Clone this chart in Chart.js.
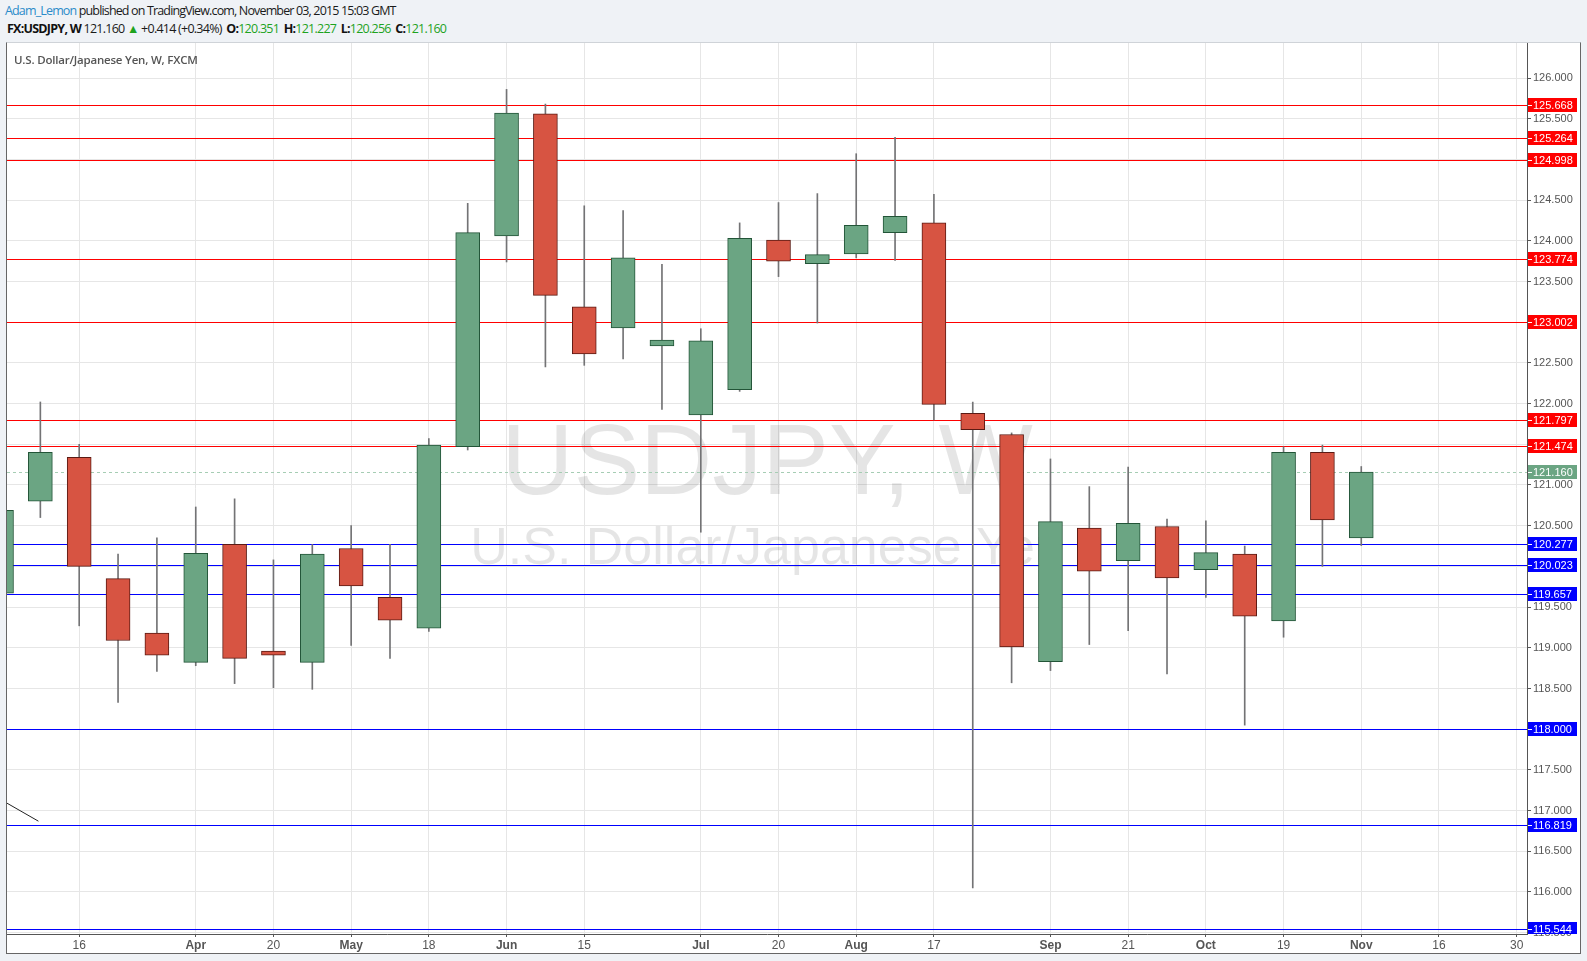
<!DOCTYPE html>
<html>
<head>
<meta charset="utf-8">
<script src="https://cdn.jsdelivr.net/npm/chart.js@4.4.0/dist/chart.umd.min.js"></script>
<style>
  body { margin: 0; background: #eff2f6; }
  #wrap { position: relative; width: 1587px; height: 961px; overflow: hidden; }
  .hdr { position: absolute; left: 5px; font-family: "Open Sans", "Noto Sans", sans-serif; font-size: 12.5px;
         line-height: 16px; color: #1a1a1a; white-space: nowrap; letter-spacing: -0.85px; }
  .hdr b { color: #111; margin-left: 2px; }
  .g { color: #1ea31e; }
  #frame { position: absolute; left: 6px; top: 42px; width: 1573px; height: 910px; background: #fff;
           border: 1px solid #666; border-top-color: #cfd3d8; }
  #chart { position: absolute; left: 0; top: 0; }
  #title { position: absolute; left: 14px; top: 52px; font-family: "Open Sans", "Noto Sans", sans-serif;
           font-size: 11.5px; line-height: 16px; font-weight: 600; color: #555; white-space: nowrap; letter-spacing: -0.2px; }
</style>
</head>
<body>
<div id="wrap">
  <div class="hdr" style="top:3px"><span style="color:#2b8bc9">Adam_Lemon</span> published on TradingView.com, November 03, 2015 15:03 GMT</div>
  <div class="hdr" style="top:21px;left:7px;letter-spacing:-0.75px"><b style="margin-left:0">FX:USDJPY, W</b> 121.160 <span class="g">▲</span> +0.414 (+0.34%) <b>O:</b><span class="g">120.351</span> <b>H:</b><span class="g">121.227</span> <b>L:</b><span class="g">120.256</span> <b>C:</b><span class="g">121.160</span></div>
  <div id="frame"></div>
  <canvas id="chart" width="1587" height="961"></canvas>
  <div id="title">U.S. Dollar/Japanese Yen, W, FXCM</div>
</div>
<script>
// weekly candles, USD/JPY 2015 (week start dates)
let weeks = ['Mar 2', 'Mar 9', 'Mar 16', 'Mar 23', 'Mar 30', 'Apr 6', 'Apr 13', 'Apr 20', 'Apr 27',
  'May 4', 'May 11', 'May 18', 'May 25', 'Jun 1', 'Jun 8', 'Jun 15', 'Jun 22', 'Jun 29',
  'Jul 6', 'Jul 13', 'Jul 20', 'Jul 27', 'Aug 3', 'Aug 10', 'Aug 17', 'Aug 24', 'Aug 31',
  'Sep 7', 'Sep 14', 'Sep 21', 'Sep 28', 'Oct 5', 'Oct 12', 'Oct 19', 'Oct 26', 'Nov 2'];
let opens  = [119.67, 120.80, 121.34, 119.85, 119.18, 118.82, 120.27, 118.96, 118.82, 120.22, 119.62, 119.24,
  121.47, 124.06, 125.56, 123.19, 122.93, 122.71, 121.86, 122.17, 124.01, 123.72, 123.84, 124.10, 124.22,
  121.88, 121.62, 118.83, 120.47, 120.07, 120.49, 119.96, 120.15, 119.33, 121.40, 120.351];
let highs  = [120.95, 122.02, 121.50, 120.15, 120.35, 120.73, 120.83, 120.08, 120.27, 120.50, 120.27, 121.57,
  124.46, 125.86, 125.68, 124.43, 124.37, 123.71, 122.92, 124.22, 124.47, 124.58, 125.07, 125.27, 124.57,
  122.02, 121.64, 121.32, 120.98, 121.22, 120.58, 120.56, 120.25, 121.47, 121.49, 121.227];
let lows   = [119.55, 120.60, 119.27, 118.33, 118.71, 118.78, 118.56, 118.51, 118.49, 119.03, 118.87, 119.20,
  121.43, 123.74, 122.45, 122.47, 122.55, 121.93, 120.42, 122.15, 123.56, 122.99, 123.79, 123.76, 121.80,
  116.05, 118.57, 118.72, 119.04, 119.21, 118.68, 119.62, 118.05, 119.13, 120.00, 120.256];
let closes = [120.69, 121.40, 120.00, 119.09, 118.91, 120.16, 118.87, 118.91, 120.15, 119.76, 119.34, 121.49,
  124.10, 125.57, 123.33, 122.61, 123.79, 122.78, 122.77, 124.03, 123.75, 123.83, 124.19, 124.30, 121.99,
  121.68, 119.01, 120.55, 119.94, 120.53, 119.86, 120.17, 119.39, 121.40, 120.57, 121.160];

// x axis ticks (week index) and their labels
let xTickIdx    = [2, 5, 7, 9, 11, 13, 15, 18, 20, 22, 24, 27, 29, 31, 33, 35, 37, 39];
let xTickLabels = ['16', 'Apr', '20', 'May', '18', 'Jun', '15', 'Jul', '20', 'Aug', '17', 'Sep', '21', 'Oct', '19', 'Nov', '16', '30'];

// horizontal levels drawn on the chart
let redLevels  = [125.668, 125.264, 124.998, 123.774, 123.002, 121.797, 121.474];
let blueLevels = [120.277, 120.023, 119.657, 118.000, 116.819, 115.544];
let lastPrice = 121.160;
let trendLine = [[0, 117.13], [0.95, 116.87]];

const xMin = 0.1416, xMax = 39.266;
const yMin = 115.484, yMax = 126.43;

const GREEN = '#6ba583', GREEN_B = '#225437';
const RED = '#d75442', RED_B = '#5b1a13';
const WICK = '#737375';

let up = opens.map((o, i) => closes[i] >= o);
let bodyData = weeks.map((w, i) => ({ x: i, y: [opens[i], closes[i]] }));
let wickData = weeks.map((w, i) => ({ x: i, y: [lows[i], highs[i]] }));

const fontAxis = '"Liberation Sans", Arial, sans-serif';

// big grey watermark + horizontal levels, behind the candles
const backLayer = {
  id: 'backLayer',
  beforeDatasetsDraw(chart) {
    const { ctx, chartArea, scales: { y } } = chart;
    const cx = (chartArea.left + chartArea.right) / 2;
    const cy = (chartArea.top + chartArea.bottom) / 2;
    ctx.save();
    ctx.fillStyle = 'rgba(0,0,0,0.1)';
    ctx.textAlign = 'center';
    ctx.textBaseline = 'alphabetic';
    ctx.font = '100px ' + fontAxis;
    ctx.fillText('USDJPY, W', cx, cy + 5);
    ctx.font = '52px ' + fontAxis;
    ctx.fillText('U.S. Dollar/Japanese Yen', cx, cy + 75);

    // level lines snapped to whole pixels, like TradingView draws them
    const hline = (v, color, dash) => {
      const py = Math.round(y.getPixelForValue(v)) + 0.5;
      ctx.beginPath();
      ctx.setLineDash(dash || []);
      ctx.strokeStyle = color;
      ctx.lineWidth = 1;
      ctx.moveTo(chartArea.left, py);
      ctx.lineTo(chartArea.right, py);
      ctx.stroke();
    };
    ctx.beginPath();
    ctx.rect(chartArea.left, chartArea.top, chartArea.right - chartArea.left, chartArea.bottom - chartArea.top);
    ctx.clip();
    hline(lastPrice, '#a6cdb4', [3, 3]);
    redLevels.forEach(v => hline(v, '#ff0000'));
    blueLevels.forEach(v => hline(v, '#0000ff'));
    ctx.restore();
  }
};

// coloured price tags on the right axis
const priceTags = {
  id: 'priceTags',
  afterDraw(chart) {
    const { ctx, chartArea, scales: { y } } = chart;
    const tags = [];
    redLevels.forEach(v => tags.push({ v, c: '#ff0000' }));
    blueLevels.forEach(v => tags.push({ v, c: '#0000ff' }));
    tags.push({ v: lastPrice, c: GREEN });
    ctx.save();
    ctx.beginPath();
    ctx.rect(chartArea.right, chartArea.top, 60, chartArea.bottom - chartArea.top);
    ctx.clip();
    ctx.font = '11px ' + fontAxis;
    ctx.textBaseline = 'middle';
    ctx.textAlign = 'left';
    tags.forEach(t => {
      const py = Math.round(y.getPixelForValue(t.v));
      ctx.fillStyle = t.c;
      ctx.fillRect(chartArea.right + 1, py - 7, 49, 14);
      ctx.fillStyle = '#fff';
      ctx.fillRect(chartArea.right + 1, py, 4, 1);
      ctx.fillText(t.v.toFixed(3), chartArea.right + 6, py + 0.5);
    });
    ctx.restore();
  }
};

new Chart('chart', {
  type: 'bar',
  data: {
    datasets: [
      {
        type: 'bar',
        data: bodyData,
        backgroundColor: up.map(u => u ? GREEN : RED),
        borderColor: up.map(u => u ? GREEN_B : RED_B),
        borderWidth: 1,
        borderSkipped: false,
        barThickness: 24,
        grouped: false,
        order: 0
      },
      {
        type: 'bar',
        data: wickData,
        backgroundColor: WICK,
        borderWidth: 0,
        barThickness: 1,
        grouped: false,
        order: 1
      },
      {
        type: 'line',
        data: trendLine.map(p => ({ x: p[0], y: p[1] })),
        borderColor: '#222',
        borderWidth: 1,
        pointRadius: 0,
        order: 2
      }
    ]
  },
  options: {
    responsive: false,
    animation: false,
    events: [],
    layout: { padding: { left: 7, top: 43, right: 7, bottom: 8 } },
    plugins: {
      legend: { display: false },
      tooltip: { enabled: false }
    },
    scales: {
      x: {
        type: 'linear',
        min: xMin,
        max: xMax,
        offset: false,
        afterBuildTicks: (s) => { s.ticks = xTickIdx.map(v => ({ value: v })); },
        afterFit: (s) => { s.height = 19; },
        grid: { offset: false, color: '#e6e6e6', tickColor: '#555', tickLength: 3 },
        border: { color: '#555' },
        ticks: {
          autoSkip: false,
          maxRotation: 0,
          minRotation: 0,
          padding: 1,
          color: '#555',
          callback: (v) => {
            const k = xTickIdx.indexOf(v);
            return k >= 0 ? xTickLabels[k] : '';
          },
          font: (c) => {
            const k = c.tick ? xTickIdx.indexOf(c.tick.value) : -1;
            const isMonth = k >= 0 && /^[A-Z]/.test(xTickLabels[k]);
            return { family: '"Liberation Sans Narrow", "Liberation Sans", Arial, sans-serif', size: 12, weight: isMonth ? 'bold' : 'normal' };
          }
        }
      },
      y: {
        position: 'right',
        min: yMin,
        max: yMax,
        afterFit: (s) => { s.width = 53; },
        grid: { color: '#e6e6e6', tickColor: '#555', tickLength: 4 },
        border: { color: '#555' },
        ticks: {
          stepSize: 0.5,
          includeBounds: false,
          autoSkip: false,
          padding: 2,
          color: '#555',
          font: { family: fontAxis, size: 11 },
          callback: (v) => v.toFixed(3)
        }
      }
    }
  },
  plugins: [backLayer, priceTags]
});
</script>
</body>
</html>
